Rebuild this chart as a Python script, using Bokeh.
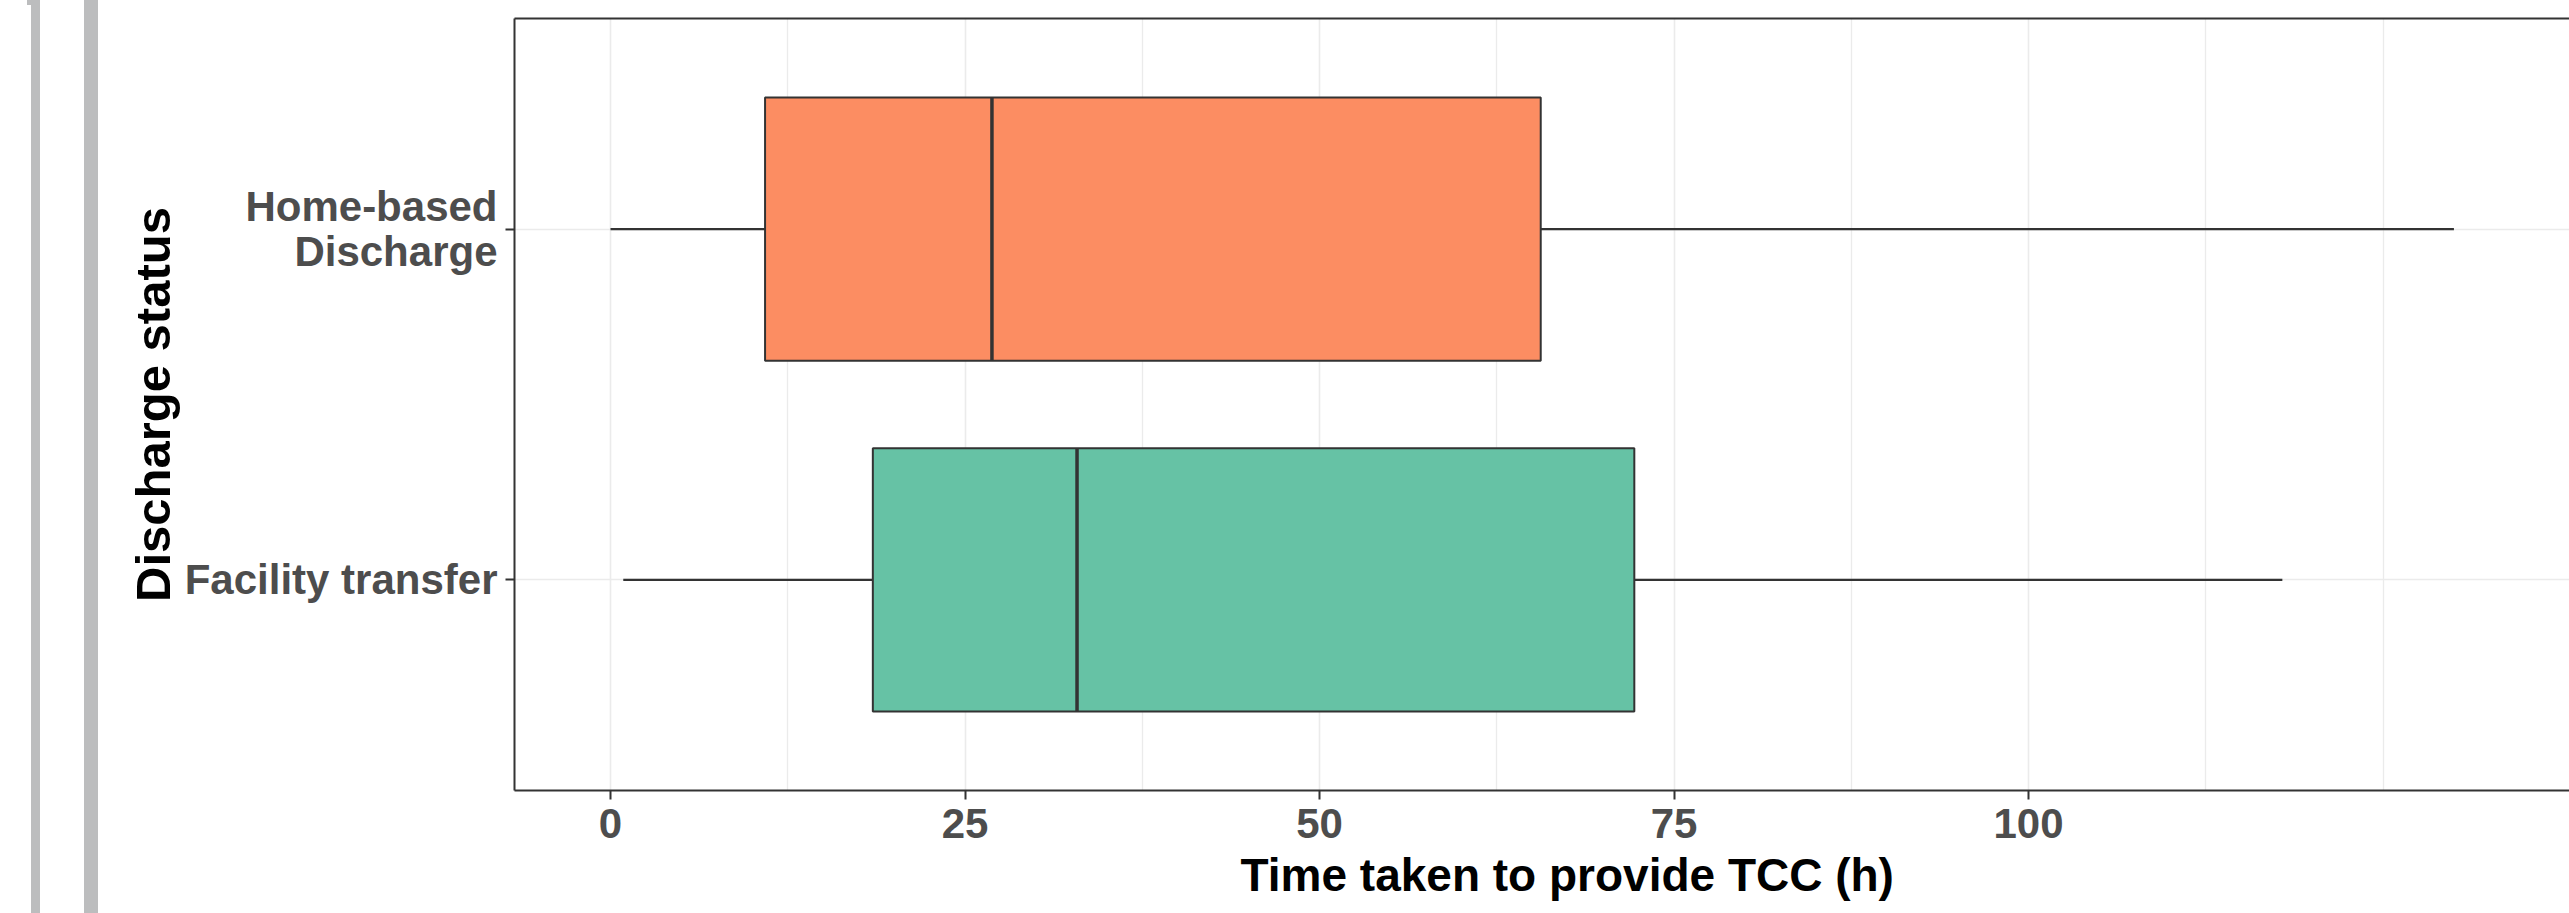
from bokeh.plotting import figure
from bokeh.models import ColumnDataSource, FixedTicker, LinearAxis, Range1d, Div, Title
from bokeh.layouts import row
from bokeh.embed import file_html
from bokeh.resources import INLINE

# ---- data ----
categories = ["Facility transfer", "Home-based\nDischarge"]
whisker_low = [0.9, 0.0]
q1 = [18.5, 10.9]
median = [32.9, 26.9]
q3 = [72.2, 65.6]
whisker_high = [117.9, 130.0]
fill_colors = ["#66C2A5", "#FC8D62"]
x_ticks = [0, 25, 50, 75, 100]
x_minor = [12.5, 37.5, 62.5, 87.5, 112.5, 125]
x_title = "Time taken to provide TCC (h)"
y_title = "Discharge status"

BOX_W = 0.75
ypos = [i + 1 for i in range(len(categories))]
src = ColumnDataSource(dict(
    y=ypos, lo=whisker_low, q1=q1, med=median, q3=q3, hi=whisker_high,
    color=fill_colors,
    y0=[y - BOX_W / 2 for y in ypos], y1=[y + BOX_W / 2 for y in ypos],
))

FONT = "Liberation Sans"
DARK = "#333333"
X0, X1 = -6.77, 138.15      # visible part of the (cropped) panel
Y0, Y1 = 0.4, 2.6

p = figure(width=2469, height=913,
           x_range=Range1d(X0, X1), y_range=Range1d(Y0, Y1),
           output_backend="svg", toolbar_location=None,
           min_border_left=414, min_border_right=0,
           min_border_top=18, min_border_bottom=123)
p.outline_line_color = None
p.background_fill_color = "white"
p.border_fill_color = "white"

# grid
p.xgrid.ticker = FixedTicker(ticks=x_ticks, minor_ticks=x_minor)
p.xgrid.grid_line_color = "#EBEBEB"
p.xgrid.grid_line_width = 1.6
p.xgrid.minor_grid_line_color = "#EBEBEB"
p.xgrid.minor_grid_line_width = 1.3
p.ygrid.ticker = FixedTicker(ticks=ypos)
p.ygrid.grid_line_color = "#EBEBEB"
p.ygrid.grid_line_width = 1.6

# whiskers
p.segment(x0="lo", y0="y", x1="q1", y1="y", source=src, line_color=DARK, line_width=2.2)
p.segment(x0="q3", y0="y", x1="hi", y1="y", source=src, line_color=DARK, line_width=2.2)
# boxes
p.hbar(y="y", left="q1", right="q3", height=BOX_W, source=src,
       fill_color="color", line_color=DARK, line_width=2)
# medians
p.segment(x0="med", y0="y0", x1="med", y1="y1", source=src, line_color=DARK, line_width=3.5)

# x axis
xa = p.xaxis[0]
xa.ticker = FixedTicker(ticks=x_ticks, minor_ticks=x_minor)
xa.major_label_text_font = FONT
xa.major_label_text_font_style = "bold"
xa.major_label_text_font_size = "42px"
xa.major_label_text_color = "#4D4D4D"
xa.major_label_standoff = 9
xa.major_tick_out = 9
xa.major_tick_in = 0
xa.minor_tick_out = 0
xa.minor_tick_in = 0
xa.major_tick_line_color = DARK
xa.major_tick_line_width = 2
xa.axis_line_color = DARK
xa.axis_line_width = 2

# x title: placed like the reference, which centres it on the full (uncropped) panel
p.add_layout(Title(text=x_title, align="left", offset=726, standoff=16,
                   vertical_align="top",
                   text_font=FONT, text_font_style="bold",
                   text_font_size="46px", text_color="black"), "below")

# y axis
ya = p.yaxis[0]
ya.ticker = FixedTicker(ticks=ypos)
ya.major_label_overrides = {y: c for y, c in zip(ypos, categories)}
ya.axis_label = y_title
ya.axis_label_text_font = FONT
ya.axis_label_text_font_style = "bold"
ya.axis_label_text_font_size = "49px"
ya.axis_label_text_color = "black"
ya.axis_label_standoff = 2
ya.major_label_text_font = FONT
ya.major_label_text_font_style = "bold"
ya.major_label_text_font_size = "42px"
ya.major_label_text_color = "#4D4D4D"
ya.major_label_text_line_height = 0.97
ya.major_label_standoff = 8
ya.major_tick_out = 9
ya.major_tick_in = 0
ya.minor_tick_out = 0
ya.minor_tick_in = 0
ya.major_tick_line_color = DARK
ya.major_tick_line_width = 2
ya.axis_line_color = DARK
ya.axis_line_width = 2

# top panel border
top_axis = LinearAxis(ticker=FixedTicker(ticks=[]), major_label_text_font_size="0px",
                      major_tick_out=0, major_tick_in=0, minor_tick_out=0, minor_tick_in=0,
                      major_label_standoff=0, axis_label_standoff=0,
                      axis_line_color=DARK, axis_line_width=2)
p.add_layout(top_axis, "above")

# grey window edges seen at the left of the reference screenshot
bars_html = (
    '<div style="position:relative;width:100px;height:913px;">'
    '<div style="position:absolute;left:27px;top:0px;width:4px;height:5px;background:#BCBDBE;"></div>'
    '<div style="position:absolute;left:31px;top:0px;width:9px;height:913px;background:#BCBDBE;"></div>'
    '<div style="position:absolute;left:84px;top:0px;width:14px;height:913px;background:#BCBDBE;"></div>'
    '</div>'
)
edge = Div(text=bars_html, width=100, height=913, margin=0)

layout = row(edge, p)
open("out.html", "w").write(file_html(layout, INLINE))
